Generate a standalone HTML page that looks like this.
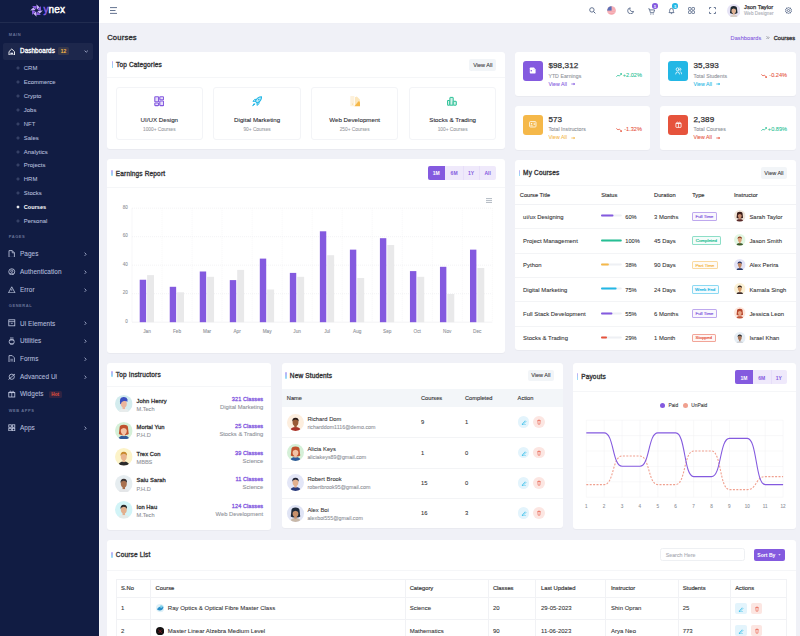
<!DOCTYPE html>
<html><head><meta charset="utf-8"><title>Courses</title>
<style>
html,body{margin:0;padding:0;width:800px;height:636px;overflow:hidden;background:#f0f1f7;font-family:"Liberation Sans",sans-serif;}
.t{position:absolute;line-height:1;white-space:nowrap;-webkit-text-stroke:0.08px currentColor;}
.r{position:absolute;box-sizing:border-box;}
</style></head><body>
<div class="r" style="left:0.00px;top:0.00px;width:99.00px;height:636.00px;background:#111c43;"></div>
<div class="r" style="left:99.00px;top:0.00px;width:1.00px;height:636.00px;background:#f6f7fa;"></div>
<div class="r" style="left:0.00px;top:22.00px;width:99.00px;height:1.00px;background:rgba(255,255,255,0.07);"></div>
<svg class="r" style="left:30.00px;top:3.60px;" width="13" height="13" viewBox="0 0 13 13"><g transform="translate(6.5,6.5)"><path d="M0.45,-1.0 L-0.1,-6.3 L3.3,-3.0 Z" fill="#c9b3f7" transform="rotate(0)"/><path d="M0.45,-1.0 L-0.1,-6.3 L3.3,-3.0 Z" fill="#8a5ce6" transform="rotate(45)"/><path d="M0.45,-1.0 L-0.1,-6.3 L3.3,-3.0 Z" fill="#c9b3f7" transform="rotate(90)"/><path d="M0.45,-1.0 L-0.1,-6.3 L3.3,-3.0 Z" fill="#8a5ce6" transform="rotate(135)"/><path d="M0.45,-1.0 L-0.1,-6.3 L3.3,-3.0 Z" fill="#c9b3f7" transform="rotate(180)"/><path d="M0.45,-1.0 L-0.1,-6.3 L3.3,-3.0 Z" fill="#8a5ce6" transform="rotate(225)"/><path d="M0.45,-1.0 L-0.1,-6.3 L3.3,-3.0 Z" fill="#c9b3f7" transform="rotate(270)"/><path d="M0.45,-1.0 L-0.1,-6.3 L3.3,-3.0 Z" fill="#8a5ce6" transform="rotate(315)"/></g></svg>
<div class="t" style="top:4.54px;font-size:10.0px;color:#ffffff;letter-spacing:0.1px;left:43.50px;-webkit-text-stroke:0.45px currentColor;"><span style="color:#8c5ee6">y</span>nex</div>
<div class="t" style="top:33.00px;font-size:4.0px;color:rgba(163,174,209,0.6);font-weight:700;-webkit-text-stroke:0;letter-spacing:0.55px;left:8.80px;">MAIN</div>
<div class="r" style="left:3.20px;top:42.50px;width:89.80px;height:17.50px;background:rgba(255,255,255,0.05);border-radius:2px;"></div>
<svg class="r" style="left:8.00px;top:47.50px;" width="7.5" height="7.5" viewBox="0 0 7.5 7.5"><path d="M1 7V3.6L3.75 1 6.5 3.6V7Z" fill="none" stroke="#fff" stroke-width="0.9"/><rect x="2.4" y="4.7" width="2.7" height="1.6" fill="#e0e4f5"/></svg>
<div class="t" style="top:48.00px;font-size:6.3px;color:#ffffff;letter-spacing:0.1px;left:20.00px;-webkit-text-stroke:0.3px #ffffff;">Dashboards</div>
<div class="r" style="left:58.00px;top:47.30px;width:10.70px;height:7.70px;background:rgba(245,184,73,0.12);border-radius:1.5px;"></div>
<div class="t" style="top:50.00px;font-size:4.8px;color:#f5b849;left:63.40px;transform:translateX(-50%);-webkit-text-stroke:0.2px #f5b849;">12</div>
<svg class="r" style="left:83.50px;top:49.50px;" width="4.5" height="3" viewBox="0 0 4.5 3"><path d="M0.6 0.6L2.25 2.2 3.9 0.6" fill="none" stroke="#b4bddb" stroke-width="0.8"/></svg>
<svg class="r" style="left:15.50px;top:65.80px;" width="4" height="4" viewBox="0 0 4 4"><circle cx="2" cy="2" r="1.1" fill="none" stroke="rgba(163,174,209,0.5)" stroke-width="0.6"/></svg>
<div class="t" style="top:66.00px;font-size:5.9px;color:#b4bddb;letter-spacing:0.05px;left:23.80px;">CRM</div>
<svg class="r" style="left:15.50px;top:79.75px;" width="4" height="4" viewBox="0 0 4 4"><circle cx="2" cy="2" r="1.1" fill="none" stroke="rgba(163,174,209,0.5)" stroke-width="0.6"/></svg>
<div class="t" style="top:80.00px;font-size:5.9px;color:#b4bddb;letter-spacing:0.05px;left:23.80px;">Ecommerce</div>
<svg class="r" style="left:15.50px;top:93.70px;" width="4" height="4" viewBox="0 0 4 4"><circle cx="2" cy="2" r="1.1" fill="none" stroke="rgba(163,174,209,0.5)" stroke-width="0.6"/></svg>
<div class="t" style="top:94.00px;font-size:5.9px;color:#b4bddb;letter-spacing:0.05px;left:23.80px;">Crypto</div>
<svg class="r" style="left:15.50px;top:107.65px;" width="4" height="4" viewBox="0 0 4 4"><circle cx="2" cy="2" r="1.1" fill="none" stroke="rgba(163,174,209,0.5)" stroke-width="0.6"/></svg>
<div class="t" style="top:108.00px;font-size:5.9px;color:#b4bddb;letter-spacing:0.05px;left:23.80px;">Jobs</div>
<svg class="r" style="left:15.50px;top:121.60px;" width="4" height="4" viewBox="0 0 4 4"><circle cx="2" cy="2" r="1.1" fill="none" stroke="rgba(163,174,209,0.5)" stroke-width="0.6"/></svg>
<div class="t" style="top:122.00px;font-size:5.9px;color:#b4bddb;letter-spacing:0.05px;left:23.80px;">NFT</div>
<svg class="r" style="left:15.50px;top:135.55px;" width="4" height="4" viewBox="0 0 4 4"><circle cx="2" cy="2" r="1.1" fill="none" stroke="rgba(163,174,209,0.5)" stroke-width="0.6"/></svg>
<div class="t" style="top:136.00px;font-size:5.9px;color:#b4bddb;letter-spacing:0.05px;left:23.80px;">Sales</div>
<svg class="r" style="left:15.50px;top:149.50px;" width="4" height="4" viewBox="0 0 4 4"><circle cx="2" cy="2" r="1.1" fill="none" stroke="rgba(163,174,209,0.5)" stroke-width="0.6"/></svg>
<div class="t" style="top:150.00px;font-size:5.9px;color:#b4bddb;letter-spacing:0.05px;left:23.80px;">Analytics</div>
<svg class="r" style="left:15.50px;top:163.45px;" width="4" height="4" viewBox="0 0 4 4"><circle cx="2" cy="2" r="1.1" fill="none" stroke="rgba(163,174,209,0.5)" stroke-width="0.6"/></svg>
<div class="t" style="top:163.00px;font-size:5.9px;color:#b4bddb;letter-spacing:0.05px;left:23.80px;">Projects</div>
<svg class="r" style="left:15.50px;top:177.40px;" width="4" height="4" viewBox="0 0 4 4"><circle cx="2" cy="2" r="1.1" fill="none" stroke="rgba(163,174,209,0.5)" stroke-width="0.6"/></svg>
<div class="t" style="top:177.00px;font-size:5.9px;color:#b4bddb;letter-spacing:0.05px;left:23.80px;">HRM</div>
<svg class="r" style="left:15.50px;top:191.35px;" width="4" height="4" viewBox="0 0 4 4"><circle cx="2" cy="2" r="1.1" fill="none" stroke="rgba(163,174,209,0.5)" stroke-width="0.6"/></svg>
<div class="t" style="top:191.00px;font-size:5.9px;color:#b4bddb;letter-spacing:0.05px;left:23.80px;">Stocks</div>
<svg class="r" style="left:15.50px;top:205.30px;" width="4" height="4" viewBox="0 0 4 4"><circle cx="2" cy="2" r="1.1" fill="#fff" stroke="#fff" stroke-width="0.6"/></svg>
<div class="t" style="top:205.00px;font-size:5.6px;color:#ffffff;font-weight:700;-webkit-text-stroke:0;left:23.80px;">Courses</div>
<svg class="r" style="left:15.50px;top:219.25px;" width="4" height="4" viewBox="0 0 4 4"><circle cx="2" cy="2" r="1.1" fill="none" stroke="rgba(163,174,209,0.5)" stroke-width="0.6"/></svg>
<div class="t" style="top:219.00px;font-size:5.9px;color:#b4bddb;letter-spacing:0.05px;left:23.80px;">Personal</div>
<div class="t" style="top:235.00px;font-size:4.0px;color:rgba(163,174,209,0.6);font-weight:700;-webkit-text-stroke:0;letter-spacing:0.55px;left:8.80px;">PAGES</div>
<div class="t" style="top:304.00px;font-size:4.0px;color:rgba(163,174,209,0.6);font-weight:700;-webkit-text-stroke:0;letter-spacing:0.55px;left:8.80px;">GENERAL</div>
<div class="t" style="top:409.00px;font-size:4.0px;color:rgba(163,174,209,0.6);font-weight:700;-webkit-text-stroke:0;letter-spacing:0.55px;left:8.80px;">WEB APPS</div>
<svg class="r" style="left:8.30px;top:249.70px;" width="7.5" height="7.5" viewBox="0 0 7.5 7.5"><path d="M1 0.6h3.2l2.2 2.2v4.6H1z" fill="none" stroke="#c8cfe6" stroke-width="0.8"/><path d="M4.2 0.6v2.2h2.2" fill="none" stroke="#c8cfe6" stroke-width="0.7"/></svg>
<div class="t" style="top:251.00px;font-size:6.4px;color:#b4bddb;letter-spacing:0.08px;left:20.00px;">Pages</div>
<svg class="r" style="left:84.20px;top:251.70px;" width="3" height="4.5" viewBox="0 0 3 4.5"><path d="M0.6 0.6L2.2 2.25 0.6 3.9" fill="none" stroke="#b4bddb" stroke-width="0.8"/></svg>
<svg class="r" style="left:8.30px;top:267.60px;" width="7.5" height="7.5" viewBox="0 0 7.5 7.5"><circle cx="3.75" cy="3.75" r="3" fill="none" stroke="#c8cfe6" stroke-width="0.8"/><circle cx="3.75" cy="3.2" r="1.1" fill="none" stroke="#c8cfe6" stroke-width="0.7"/><path d="M1.8 6c.6-1 3.3-1 3.9 0" fill="none" stroke="#c8cfe6" stroke-width="0.7"/></svg>
<div class="t" style="top:269.00px;font-size:6.4px;color:#b4bddb;letter-spacing:0.08px;left:20.00px;">Authentication</div>
<svg class="r" style="left:84.20px;top:269.60px;" width="3" height="4.5" viewBox="0 0 3 4.5"><path d="M0.6 0.6L2.2 2.25 0.6 3.9" fill="none" stroke="#b4bddb" stroke-width="0.8"/></svg>
<svg class="r" style="left:8.30px;top:285.50px;" width="7.5" height="7.5" viewBox="0 0 7.5 7.5"><path d="M3.75 0.8L7 6.8H0.5Z" fill="none" stroke="#c8cfe6" stroke-width="0.8"/><path d="M3.75 3v1.8" stroke="#c8cfe6" stroke-width="0.7"/></svg>
<div class="t" style="top:287.00px;font-size:6.4px;color:#b4bddb;letter-spacing:0.08px;left:20.00px;">Error</div>
<svg class="r" style="left:84.20px;top:287.50px;" width="3" height="4.5" viewBox="0 0 3 4.5"><path d="M0.6 0.6L2.2 2.25 0.6 3.9" fill="none" stroke="#b4bddb" stroke-width="0.8"/></svg>
<svg class="r" style="left:8.30px;top:319.30px;" width="7.5" height="7.5" viewBox="0 0 7.5 7.5"><rect x="0.8" y="0.8" width="6" height="6" fill="none" stroke="#c8cfe6" stroke-width="0.8"/><path d="M0.8 2.6h6M2.8 4.3h2" stroke="#c8cfe6" stroke-width="0.7"/></svg>
<div class="t" style="top:321.00px;font-size:6.4px;color:#b4bddb;letter-spacing:0.08px;left:20.00px;">Ui Elements</div>
<svg class="r" style="left:84.20px;top:321.30px;" width="3" height="4.5" viewBox="0 0 3 4.5"><path d="M0.6 0.6L2.2 2.25 0.6 3.9" fill="none" stroke="#b4bddb" stroke-width="0.8"/></svg>
<svg class="r" style="left:8.30px;top:337.00px;" width="7.5" height="7.5" viewBox="0 0 7.5 7.5"><path d="M2 1h3.5M1.5 3h4.5M2 7h3.5" stroke="#c8cfe6" stroke-width="0.8"/><rect x="1.2" y="2.5" width="5" height="4.5" rx="2" fill="none" stroke="#c8cfe6" stroke-width="0.8"/></svg>
<div class="t" style="top:338.00px;font-size:6.4px;color:#b4bddb;letter-spacing:0.08px;left:20.00px;">Utilities</div>
<svg class="r" style="left:84.20px;top:339.00px;" width="3" height="4.5" viewBox="0 0 3 4.5"><path d="M0.6 0.6L2.2 2.25 0.6 3.9" fill="none" stroke="#b4bddb" stroke-width="0.8"/></svg>
<svg class="r" style="left:8.30px;top:354.90px;" width="7.5" height="7.5" viewBox="0 0 7.5 7.5"><path d="M1 0.6h3.2l2.2 2.2v4.6H1z" fill="none" stroke="#c8cfe6" stroke-width="0.8"/><path d="M2.3 4.3h2.8M2.3 5.8h2.8" stroke="#c8cfe6" stroke-width="0.6"/></svg>
<div class="t" style="top:356.00px;font-size:6.4px;color:#b4bddb;letter-spacing:0.08px;left:20.00px;">Forms</div>
<svg class="r" style="left:84.20px;top:356.90px;" width="3" height="4.5" viewBox="0 0 3 4.5"><path d="M0.6 0.6L2.2 2.25 0.6 3.9" fill="none" stroke="#b4bddb" stroke-width="0.8"/></svg>
<svg class="r" style="left:8.30px;top:372.60px;" width="7.5" height="7.5" viewBox="0 0 7.5 7.5"><circle cx="3.75" cy="3.75" r="2.6" fill="none" stroke="#c8cfe6" stroke-width="0.8"/><path d="M0.5 6.5L7 1" stroke="#c8cfe6" stroke-width="0.8"/></svg>
<div class="t" style="top:374.00px;font-size:6.4px;color:#b4bddb;letter-spacing:0.08px;left:20.00px;">Advanced Ui</div>
<svg class="r" style="left:84.20px;top:374.60px;" width="3" height="4.5" viewBox="0 0 3 4.5"><path d="M0.6 0.6L2.2 2.25 0.6 3.9" fill="none" stroke="#b4bddb" stroke-width="0.8"/></svg>
<svg class="r" style="left:8.30px;top:390.10px;" width="7.5" height="7.5" viewBox="0 0 7.5 7.5"><rect x="0.8" y="2.6" width="6" height="4.4" fill="none" stroke="#c8cfe6" stroke-width="0.8"/><path d="M3.75 2.6v4.4M0.5 2.6h6.5M3.75 2.5C3 0.5 1.5 0.8 2 2.3M3.75 2.5C4.5 0.5 6 0.8 5.5 2.3" fill="none" stroke="#c8cfe6" stroke-width="0.7"/></svg>
<div class="t" style="top:391.00px;font-size:6.4px;color:#b4bddb;letter-spacing:0.08px;left:20.00px;">Widgets</div>
<svg class="r" style="left:8.30px;top:423.90px;" width="7.5" height="7.5" viewBox="0 0 7.5 7.5"><rect x="0.8" y="0.8" width="2.5" height="2.5" fill="none" stroke="#c8cfe6" stroke-width="0.8"/><rect x="4.3" y="0.8" width="2.5" height="2.5" fill="none" stroke="#c8cfe6" stroke-width="0.8"/><rect x="0.8" y="4.3" width="2.5" height="2.5" fill="none" stroke="#c8cfe6" stroke-width="0.8"/><rect x="4.3" y="4.3" width="2.5" height="2.5" fill="none" stroke="#c8cfe6" stroke-width="0.8"/></svg>
<div class="t" style="top:425.00px;font-size:6.4px;color:#b4bddb;letter-spacing:0.08px;left:20.00px;">Apps</div>
<svg class="r" style="left:84.20px;top:425.90px;" width="3" height="4.5" viewBox="0 0 3 4.5"><path d="M0.6 0.6L2.2 2.25 0.6 3.9" fill="none" stroke="#b4bddb" stroke-width="0.8"/></svg>
<div class="r" style="left:48.60px;top:391.00px;width:13.20px;height:7.00px;background:rgba(230,83,60,0.15);border-radius:1.5px;"></div>
<div class="t" style="top:393.00px;font-size:4.6px;color:#e6533c;font-weight:700;-webkit-text-stroke:0;left:55.20px;transform:translateX(-50%);">Hot</div>
<div class="r" style="left:99.00px;top:0.00px;width:701.00px;height:22.80px;background:#ffffff;box-shadow:0 0.5px 1.5px rgba(0,0,0,0.02);"></div>
<svg class="r" style="left:110.00px;top:6.80px;" width="7.5" height="7" viewBox="0 0 7.5 7"><path d="M0 0.6h7M0 3.5h5.5M0 6.4h7" stroke="#536485" stroke-width="0.9"/></svg>
<svg class="r" style="left:589.00px;top:7.30px;" width="7" height="7" viewBox="0 0 7 7"><circle cx="2.9" cy="2.9" r="2.2" fill="none" stroke="#536485" stroke-width="0.9"/><path d="M4.5 4.5L6.4 6.4" stroke="#536485" stroke-width="1"/></svg>
<svg class="r" style="left:607.30px;top:6.20px;" width="9" height="9" viewBox="0 0 9 9"><defs><clipPath id="fc"><circle cx="4.5" cy="4.5" r="4.3"/></clipPath></defs><g clip-path="url(#fc)"><rect width="9" height="9" fill="#f5a3ab"/><path d="M0 1.2h9M0 3h9M0 4.8h9M0 6.6h9" stroke="#f8c4c9" stroke-width="0.6"/><rect width="4.6" height="4.6" fill="#5c6fb5"/></g></svg>
<svg class="r" style="left:627.00px;top:7.30px;" width="7.5" height="7" viewBox="0 0 7.5 7"><path d="M3.2 0.8A3 3 0 1 0 6.6 4.4 2.6 2.6 0 0 1 3.2 0.8Z" fill="none" stroke="#536485" stroke-width="0.85"/></svg>
<svg class="r" style="left:648.00px;top:7.50px;" width="7" height="7" viewBox="0 0 7 7"><path d="M0.3 0.8h1.1l1 3.9h3.3l0.9-2.8H1.8" fill="none" stroke="#536485" stroke-width="0.85"/><circle cx="2.8" cy="6" r="0.6" fill="#536485"/><circle cx="5.2" cy="6" r="0.6" fill="#536485"/></svg>
<div class="r" style="left:652.20px;top:3.20px;width:5.60px;height:5.60px;background:#845adf;border-radius:50%;"></div>
<div class="t" style="top:6.00px;font-size:3.6px;color:#fff;font-weight:700;-webkit-text-stroke:0;left:655.00px;transform:translateX(-50%);">5</div>
<svg class="r" style="left:668.00px;top:7.20px;" width="7" height="7.5" viewBox="0 0 7 7.5"><path d="M1 5.6h5C5.3 4.8 5.3 4 5.3 3.2A1.8 1.8 0 0 0 1.7 3.2C1.7 4 1.7 4.8 1 5.6Z" fill="none" stroke="#536485" stroke-width="0.85"/><path d="M2.8 6.6h1.4" stroke="#536485" stroke-width="0.8"/></svg>
<div class="r" style="left:672.40px;top:3.20px;width:5.60px;height:5.60px;background:#23b7e5;border-radius:50%;"></div>
<div class="t" style="top:6.00px;font-size:3.6px;color:#fff;font-weight:700;-webkit-text-stroke:0;left:675.20px;transform:translateX(-50%);">5</div>
<svg class="r" style="left:688.30px;top:7.30px;" width="7" height="7" viewBox="0 0 7 7"><rect x="0.5" y="0.5" width="2.6" height="2.6" rx="0.6" fill="none" stroke="#536485" stroke-width="0.8"/><rect x="3.9" y="0.5" width="2.6" height="2.6" rx="0.6" fill="none" stroke="#536485" stroke-width="0.8"/><rect x="0.5" y="3.9" width="2.6" height="2.6" rx="0.6" fill="none" stroke="#536485" stroke-width="0.8"/><rect x="3.9" y="3.9" width="2.6" height="2.6" rx="0.6" fill="none" stroke="#536485" stroke-width="0.8"/></svg>
<svg class="r" style="left:709.00px;top:6.90px;" width="7" height="7" viewBox="0 0 7 7"><path d="M0.5 2.2V0.5h1.7M4.8 0.5h1.7v1.7M6.5 4.8v1.7H4.8M2.2 6.5H0.5V4.8" fill="none" stroke="#536485" stroke-width="0.85"/></svg>
<svg class="r" style="left:726.75px;top:3.55px;" width="13.5" height="13.5" viewBox="0 0 13.5 13.5"><defs><clipPath id="avc1"><circle cx="10" cy="10" r="10"/></clipPath></defs><g transform="scale(0.675)" clip-path="url(#avc1)"><rect width="20" height="20" fill="#e6e3f5"/><path d="M5.2 6.5Q5 3.2 10 3 15 3.2 14.8 6.5L15.6 13.5Q14 15 10 14.6 6 15 4.4 13.5Z" fill="#1f2a33"/><path d="M3.5 20.5Q4 15.6 10 15.4 16 15.6 16.5 20.5Z" fill="#d8cfc8"/><rect x="8.6" y="12.5" width="2.8" height="3.5" fill="#e0b394"/><ellipse cx="10" cy="10" rx="3.4" ry="4.1" fill="#e0b394"/><path d="M6.2 9.5Q6 5 10 5 14 5 13.8 9.5 13 7 10 6.8 7 7 6.2 9.5Z" fill="#1f2a33"/></g></svg>
<div class="t" style="top:5.00px;font-size:5.7px;color:#333335;letter-spacing:0.05px;left:744.00px;-webkit-text-stroke:0.25px #333335;">Json Taylor</div>
<div class="t" style="top:12.00px;font-size:4.6px;color:#a8abb3;letter-spacing:0.05px;left:744.00px;">Web Designer</div>
<svg class="r" style="left:785.00px;top:7.00px;" width="7" height="7" viewBox="0 0 7 7"><circle cx="3.5" cy="3.5" r="1.1" fill="none" stroke="#536485" stroke-width="0.8"/><path d="M3.5 0.4L4.3 1.1 5.4 0.9 5.6 2 6.6 2.5 6.1 3.5 6.6 4.5 5.6 5 5.4 6.1 4.3 5.9 3.5 6.6 2.7 5.9 1.6 6.1 1.4 5 0.4 4.5 0.9 3.5 0.4 2.5 1.4 2 1.6 0.9 2.7 1.1Z" fill="none" stroke="#536485" stroke-width="0.8" stroke-linejoin="round"/></svg>
<div class="t" style="top:34.00px;font-size:7.6px;color:#333335;letter-spacing:0.2px;left:107.20px;-webkit-text-stroke:0.35px #333335;">Courses</div>
<div class="t" style="top:36.00px;font-size:5.6px;color:#845adf;letter-spacing:0.05px;left:730.60px;">Dashboards</div>
<svg class="r" style="left:766.30px;top:36.00px;" width="3.6" height="3.4" viewBox="0 0 3.6 3.4"><path d="M0.4 0.4L1.7 1.7 0.4 3M1.9 0.4L3.2 1.7 1.9 3" fill="none" stroke="#8c9097" stroke-width="0.75"/></svg>
<div class="t" style="top:36.00px;font-size:5.7px;color:#333335;letter-spacing:0.05px;left:773.70px;-webkit-text-stroke:0.3px #333335;">Courses</div>
<div class="r" style="left:107.20px;top:52.30px;width:397.50px;height:96.40px;background:#ffffff;border-radius:3px;box-shadow:0 0.5px 1px rgba(10,10,10,0.03);"></div>
<div class="r" style="left:111.60px;top:61.30px;width:1.50px;height:6.40px;background:linear-gradient(#c4a8f7,#8fe3f5);border-radius:1px;"></div>
<div class="t" style="top:62.00px;font-size:6.5px;color:#333335;letter-spacing:0.16px;left:116.00px;-webkit-text-stroke:0.32px #333335;">Top Categories</div>
<div class="r" style="left:469.30px;top:59.40px;width:27.00px;height:11.30px;background:#f2f5f8;border-radius:2px;"></div>
<div class="t" style="top:63.00px;font-size:5.5px;color:#333335;left:482.80px;transform:translateX(-50%);">View All</div>
<div class="r" style="left:107.20px;top:77.20px;width:397.50px;height:0.60px;background:#f5f6f8;"></div>
<div class="r" style="left:115.90px;top:86.70px;width:86.80px;height:53.60px;background:#fff;border:0.5px solid #f3f4f7;border-radius:3px;"></div>
<div class="t" style="top:117.00px;font-size:6.2px;color:#2d2d35;left:159.30px;transform:translateX(-50%);-webkit-text-stroke:0.1px #2d2d35;">UI/UX Design</div>
<div class="t" style="top:128.00px;font-size:4.8px;color:#9a9ca3;left:159.30px;transform:translateX(-50%);">1000+ Courses</div>
<svg class="r" style="left:154.10px;top:96.20px;" width="10.4" height="10.4" viewBox="0 0 10.4 10.4"><rect x="0.8" y="0.8" width="3.8" height="5" rx="0.6" fill="#e7defa" stroke="#845adf" stroke-width="1.1"/><rect x="5.8" y="0.8" width="3.8" height="3" rx="0.6" fill="#e7defa" stroke="#845adf" stroke-width="1.1"/><rect x="0.8" y="7" width="3.8" height="2.6" rx="0.6" fill="#e7defa" stroke="#845adf" stroke-width="1.1"/><rect x="5.8" y="5" width="3.8" height="4.6" rx="0.6" fill="#e7defa" stroke="#845adf" stroke-width="1.1"/></svg>
<div class="r" style="left:213.40px;top:86.70px;width:87.40px;height:53.60px;background:#fff;border:0.5px solid #f3f4f7;border-radius:3px;"></div>
<div class="t" style="top:117.00px;font-size:6.2px;color:#2d2d35;left:257.10px;transform:translateX(-50%);-webkit-text-stroke:0.1px #2d2d35;">Digital Marketing</div>
<div class="t" style="top:128.00px;font-size:4.8px;color:#9a9ca3;left:257.10px;transform:translateX(-50%);">90+ Courses</div>
<svg class="r" style="left:251.90px;top:96.20px;" width="10.4" height="10.4" viewBox="0 0 10.4 10.4"><path d="M9.6 0.8C6.8 0.9 4.6 2.6 3.3 5.2L5.2 7.1C7.8 5.8 9.5 3.6 9.6 0.8Z" fill="#bfeaf8" stroke="#23b7e5" stroke-width="1.1" stroke-linejoin="round"/><path d="M3.3 5.2L1 5.4 2.6 3.4 4.4 3.4M5.2 7.1L5 9.4 7 7.8 7 6" fill="none" stroke="#23b7e5" stroke-width="1"/><path d="M2.4 7.2L0.7 9.7 3.2 8" fill="none" stroke="#23b7e5" stroke-width="1"/><circle cx="6.8" cy="3.6" r="0.8" fill="#23b7e5"/></svg>
<div class="r" style="left:311.00px;top:86.70px;width:87.40px;height:53.60px;background:#fff;border:0.5px solid #f3f4f7;border-radius:3px;"></div>
<div class="t" style="top:117.00px;font-size:6.2px;color:#2d2d35;left:354.70px;transform:translateX(-50%);-webkit-text-stroke:0.1px #2d2d35;">Web Development</div>
<div class="t" style="top:128.00px;font-size:4.8px;color:#9a9ca3;left:354.70px;transform:translateX(-50%);">250+ Courses</div>
<svg class="r" style="left:349.50px;top:96.20px;" width="10.4" height="10.4" viewBox="0 0 10.4 10.4"><rect x="0.3" y="0" width="4.1" height="10.2" rx="0.4" fill="#fdf1dc"/><path d="M5 1.3L6.8 0.5 9.9 3.4V6L5 9.5Z" fill="#fce6bb"/><path d="M4.4 10.2H10V6.2Q9.6 5.1 8.3 5.4Z" fill="#f5b849"/><circle cx="2.6" cy="8.1" r="0.55" fill="#f8d595"/></svg>
<div class="r" style="left:409.00px;top:86.70px;width:87.30px;height:53.60px;background:#fff;border:0.5px solid #f3f4f7;border-radius:3px;"></div>
<div class="t" style="top:117.00px;font-size:6.2px;color:#2d2d35;left:452.65px;transform:translateX(-50%);-webkit-text-stroke:0.1px #2d2d35;">Stocks &amp; Trading</div>
<div class="t" style="top:128.00px;font-size:4.8px;color:#9a9ca3;left:452.65px;transform:translateX(-50%);">100+ Courses</div>
<svg class="r" style="left:447.45px;top:96.20px;" width="10.4" height="10.4" viewBox="0 0 10.4 10.4"><g fill="#d4f2e9" stroke="#26bf94" stroke-width="1" stroke-linejoin="round"><rect x="0.4" y="4.5" width="2.5" height="4.7" rx="0.3"/><rect x="2.9" y="1.4" width="3.3" height="7.8" rx="0.3"/><rect x="6.2" y="5.3" width="3.1" height="3.9" rx="0.3"/></g></svg>
<div class="r" style="left:514.90px;top:52.20px;width:135.60px;height:43.80px;background:#ffffff;border-radius:3px;box-shadow:0 0.5px 1px rgba(10,10,10,0.03);"></div>
<div class="r" style="left:523.20px;top:60.90px;width:20.00px;height:20.00px;background:#845adf;border-radius:3px;"></div>
<svg class="r" style="left:529.40px;top:67.40px;" width="7.5" height="7" viewBox="0 0 7.5 7"><path d="M0.8 1.3Q0.8 0.6 1.5 0.6H5L6.6 2.6V5.8Q6.6 6.4 6 6.4H1.5Q0.8 6.4 0.8 5.8Z" fill="#fff"/><circle cx="2.3" cy="3.8" r="0.8" fill="#845adf"/><path d="M4 2.6h2.6" stroke="#c9b6f2" stroke-width="0.4"/></svg>
<div class="t" style="top:62.00px;font-size:8.1px;color:#333335;letter-spacing:0.1px;left:548.40px;-webkit-text-stroke:0.25px #333335;">$98,312</div>
<div class="t" style="top:74.00px;font-size:5.2px;color:#8c9097;letter-spacing:0.05px;left:548.40px;">YTD Earnings</div>
<div class="t" style="top:82.00px;font-size:5.2px;color:#845adf;letter-spacing:0.05px;left:548.40px;">View All</div>
<svg class="r" style="left:570.70px;top:81.80px;" width="4.6" height="4" viewBox="0 0 4.6 4"><path d="M0.3 2h3.2" stroke="#845adf" stroke-width="0.8"/><path d="M2.6 0.7L4.2 2 2.6 3.3Z" fill="#845adf"/></svg>
<div class="t" style="top:73.00px;font-size:5.6px;color:#26bf94;right:158.10px;">+2.02%</div>
<svg class="r" style="left:615.90px;top:73.40px;" width="6" height="4" viewBox="0 0 6 4"><path d="M0.3 3.7L2 2.2 3.3 3.1 5.6 0.6M4.2 0.6h1.5v1.4" fill="none" stroke="#26bf94" stroke-width="0.75"/></svg>
<div class="r" style="left:660.00px;top:52.20px;width:135.60px;height:43.80px;background:#ffffff;border-radius:3px;box-shadow:0 0.5px 1px rgba(10,10,10,0.03);"></div>
<div class="r" style="left:668.30px;top:60.90px;width:20.00px;height:20.00px;background:#23b7e5;border-radius:3px;"></div>
<svg class="r" style="left:674.50px;top:67.40px;" width="7.6" height="7.4" viewBox="0 0 7.6 7.4"><g fill="none" stroke="#fff" stroke-width="0.8" stroke-linecap="round"><circle cx="2.6" cy="2.3" r="1.45"/><path d="M5.0 0.95A1.45 1.45 0 0 1 5.0 3.65"/><path d="M0.7 7.0Q0.7 4.9 2.6 4.9 4.5 4.9 4.5 7.0"/><path d="M5.7 5.0Q6.9 5.4 6.9 7.0"/></g></svg>
<div class="t" style="top:62.00px;font-size:8.1px;color:#333335;letter-spacing:0.1px;left:693.50px;-webkit-text-stroke:0.25px #333335;">35,393</div>
<div class="t" style="top:74.00px;font-size:5.2px;color:#8c9097;letter-spacing:0.05px;left:693.50px;">Total Students</div>
<div class="t" style="top:82.00px;font-size:5.2px;color:#23b7e5;letter-spacing:0.05px;left:693.50px;">View All</div>
<svg class="r" style="left:715.80px;top:81.80px;" width="4.6" height="4" viewBox="0 0 4.6 4"><path d="M0.3 2h3.2" stroke="#23b7e5" stroke-width="0.8"/><path d="M2.6 0.7L4.2 2 2.6 3.3Z" fill="#23b7e5"/></svg>
<div class="t" style="top:73.00px;font-size:5.6px;color:#e6533c;right:13.00px;">-0.24%</div>
<svg class="r" style="left:761.00px;top:73.80px;" width="6" height="4" viewBox="0 0 6 4"><path d="M0.3 0.4L2 1.9 3.3 1 5.6 3.5M4.2 3.5h1.5V2.1" fill="none" stroke="#e6533c" stroke-width="0.75"/></svg>
<div class="r" style="left:514.90px;top:106.00px;width:135.60px;height:43.80px;background:#ffffff;border-radius:3px;box-shadow:0 0.5px 1px rgba(10,10,10,0.03);"></div>
<div class="r" style="left:523.20px;top:114.70px;width:20.00px;height:20.00px;background:#f5b849;border-radius:3px;"></div>
<svg class="r" style="left:529.40px;top:121.40px;" width="7.6" height="6.6" viewBox="0 0 7.6 6.6"><rect x="0.6" y="0.6" width="6.4" height="5.4" rx="0.8" fill="none" stroke="#fff" stroke-width="0.8"/><circle cx="2.6" cy="2.7" r="0.8" fill="#fff"/><path d="M1.5 4.7h2.2M4.6 2.3h1.6M4.6 3.6h1.6" stroke="#fff" stroke-width="0.7"/></svg>
<div class="t" style="top:116.00px;font-size:8.1px;color:#333335;letter-spacing:0.1px;left:548.40px;-webkit-text-stroke:0.25px #333335;">573</div>
<div class="t" style="top:127.00px;font-size:5.2px;color:#8c9097;letter-spacing:0.05px;left:548.40px;">Total Instructors</div>
<div class="t" style="top:135.00px;font-size:5.2px;color:#f5b849;letter-spacing:0.05px;left:548.40px;">View All</div>
<svg class="r" style="left:570.70px;top:135.60px;" width="4.6" height="4" viewBox="0 0 4.6 4"><path d="M0.3 2h3.2" stroke="#f5b849" stroke-width="0.8"/><path d="M2.6 0.7L4.2 2 2.6 3.3Z" fill="#f5b849"/></svg>
<div class="t" style="top:127.00px;font-size:5.6px;color:#e6533c;right:158.10px;">-1.32%</div>
<svg class="r" style="left:615.90px;top:127.60px;" width="6" height="4" viewBox="0 0 6 4"><path d="M0.3 0.4L2 1.9 3.3 1 5.6 3.5M4.2 3.5h1.5V2.1" fill="none" stroke="#e6533c" stroke-width="0.75"/></svg>
<div class="r" style="left:660.00px;top:106.00px;width:135.60px;height:43.80px;background:#ffffff;border-radius:3px;box-shadow:0 0.5px 1px rgba(10,10,10,0.03);"></div>
<div class="r" style="left:668.30px;top:114.70px;width:20.00px;height:20.00px;background:#e6533c;border-radius:3px;"></div>
<svg class="r" style="left:674.80px;top:121.20px;" width="7" height="7" viewBox="0 0 7 7"><rect x="0.9" y="2.4" width="5.2" height="4" rx="0.4" fill="none" stroke="#fff" stroke-width="0.8"/><path d="M0.6 2.4h5.8M3.5 2.4v4M3.5 2.3C2.8 0.4 1.3 0.8 1.9 2.2M3.5 2.3C4.2 0.4 5.7 0.8 5.1 2.2" fill="none" stroke="#fff" stroke-width="0.7"/></svg>
<div class="t" style="top:116.00px;font-size:8.1px;color:#333335;letter-spacing:0.1px;left:693.50px;-webkit-text-stroke:0.25px #333335;">2,389</div>
<div class="t" style="top:127.00px;font-size:5.2px;color:#8c9097;letter-spacing:0.05px;left:693.50px;">Total Courses</div>
<div class="t" style="top:135.00px;font-size:5.2px;color:#e6533c;letter-spacing:0.05px;left:693.50px;">View All</div>
<svg class="r" style="left:715.80px;top:135.60px;" width="4.6" height="4" viewBox="0 0 4.6 4"><path d="M0.3 2h3.2" stroke="#e6533c" stroke-width="0.8"/><path d="M2.6 0.7L4.2 2 2.6 3.3Z" fill="#e6533c"/></svg>
<div class="t" style="top:127.00px;font-size:5.6px;color:#26bf94;right:13.00px;">+0.89%</div>
<svg class="r" style="left:761.00px;top:127.20px;" width="6" height="4" viewBox="0 0 6 4"><path d="M0.3 3.7L2 2.2 3.3 3.1 5.6 0.6M4.2 0.6h1.5v1.4" fill="none" stroke="#26bf94" stroke-width="0.75"/></svg>
<div class="r" style="left:107.00px;top:158.90px;width:397.80px;height:194.00px;background:#ffffff;border-radius:3px;box-shadow:0 0.5px 1px rgba(10,10,10,0.03);"></div>
<div class="r" style="left:111.40px;top:169.90px;width:1.50px;height:6.40px;background:linear-gradient(#c4a8f7,#8fe3f5);border-radius:1px;"></div>
<div class="t" style="top:171.00px;font-size:6.5px;color:#333335;letter-spacing:0.16px;left:115.80px;-webkit-text-stroke:0.32px #333335;">Earnings Report</div>
<div class="r" style="left:107.00px;top:186.70px;width:397.80px;height:0.60px;background:#f5f6f8;"></div>
<div class="r" style="left:427.50px;top:165.80px;width:68.70px;height:13.80px;background:#efe9fb;border-radius:2px;"></div>
<div class="r" style="left:427.50px;top:165.80px;width:17.70px;height:13.80px;background:#845adf;border-radius:2px 0 0 2px;"></div>
<div class="r" style="left:462.90px;top:165.80px;width:0.50px;height:13.80px;background:rgba(132,90,223,0.07);"></div>
<div class="r" style="left:479.20px;top:165.80px;width:0.50px;height:13.80px;background:rgba(132,90,223,0.07);"></div>
<div class="t" style="top:171.00px;font-size:5.0px;color:#fff;font-weight:700;-webkit-text-stroke:0;left:436.30px;transform:translateX(-50%);">1M</div>
<div class="t" style="top:171.00px;font-size:5.0px;color:#845adf;font-weight:700;-webkit-text-stroke:0;left:454.10px;transform:translateX(-50%);">6M</div>
<div class="t" style="top:171.00px;font-size:5.0px;color:#845adf;font-weight:700;-webkit-text-stroke:0;left:471.10px;transform:translateX(-50%);">1Y</div>
<div class="t" style="top:171.00px;font-size:5.0px;color:#845adf;font-weight:700;-webkit-text-stroke:0;left:487.60px;transform:translateX(-50%);">All</div>
<svg class="r" style="left:485.80px;top:198.00px;" width="6.4" height="5.2" viewBox="0 0 6.4 5.2"><path d="M0 0.6h6.4M0 2.6h6.4M0 4.6h6.4" stroke="#a9b1bb" stroke-width="0.9"/></svg>
<div class="t" style="top:320.00px;font-size:4.5px;color:#8c9097;right:672.20px;">0</div>
<div class="t" style="top:291.00px;font-size:4.5px;color:#8c9097;right:672.20px;">20</div>
<div class="t" style="top:263.00px;font-size:4.5px;color:#8c9097;right:672.20px;">40</div>
<div class="t" style="top:234.00px;font-size:4.5px;color:#8c9097;right:672.20px;">60</div>
<div class="t" style="top:206.00px;font-size:4.5px;color:#8c9097;right:672.20px;">80</div>
<div class="t" style="top:330.00px;font-size:4.7px;color:#8c9097;left:147.01px;transform:translateX(-50%);">Jan</div>
<div class="t" style="top:330.00px;font-size:4.7px;color:#8c9097;left:177.04px;transform:translateX(-50%);">Feb</div>
<div class="t" style="top:330.00px;font-size:4.7px;color:#8c9097;left:207.06px;transform:translateX(-50%);">Mar</div>
<div class="t" style="top:330.00px;font-size:4.7px;color:#8c9097;left:237.09px;transform:translateX(-50%);">Apr</div>
<div class="t" style="top:330.00px;font-size:4.7px;color:#8c9097;left:267.11px;transform:translateX(-50%);">May</div>
<div class="t" style="top:330.00px;font-size:4.7px;color:#8c9097;left:297.14px;transform:translateX(-50%);">Jun</div>
<div class="t" style="top:330.00px;font-size:4.7px;color:#8c9097;left:327.16px;transform:translateX(-50%);">Jul</div>
<div class="t" style="top:330.00px;font-size:4.7px;color:#8c9097;left:357.19px;transform:translateX(-50%);">Aug</div>
<div class="t" style="top:330.00px;font-size:4.7px;color:#8c9097;left:387.21px;transform:translateX(-50%);">Sep</div>
<div class="t" style="top:330.00px;font-size:4.7px;color:#8c9097;left:417.24px;transform:translateX(-50%);">Oct</div>
<div class="t" style="top:330.00px;font-size:4.7px;color:#8c9097;left:447.26px;transform:translateX(-50%);">Nov</div>
<div class="t" style="top:330.00px;font-size:4.7px;color:#8c9097;left:477.29px;transform:translateX(-50%);">Dec</div>
<svg class="r" style="left:107.00px;top:200.00px;" width="390" height="130" viewBox="0 0 390 130"><g transform="translate(-107,-200)"><line x1="132.0" y1="322.2" x2="492.3" y2="322.2" stroke="#e6e7ea" stroke-width="0.5" stroke-dasharray="none"/><line x1="132.0" y1="293.7" x2="492.3" y2="293.7" stroke="#e6e7ea" stroke-width="0.5" stroke-dasharray="1 1"/><line x1="132.0" y1="265.2" x2="492.3" y2="265.2" stroke="#e6e7ea" stroke-width="0.5" stroke-dasharray="1 1"/><line x1="132.0" y1="236.7" x2="492.3" y2="236.7" stroke="#e6e7ea" stroke-width="0.5" stroke-dasharray="1 1"/><line x1="132.0" y1="208.2" x2="492.3" y2="208.2" stroke="#e6e7ea" stroke-width="0.5" stroke-dasharray="1 1"/><line x1="132.0" y1="208.2" x2="132.0" y2="322.2" stroke="#eeeff1" stroke-width="0.5" stroke-dasharray="none"/><line x1="162.025" y1="208.2" x2="162.025" y2="322.2" stroke="#eeeff1" stroke-width="0.5" stroke-dasharray="1 1"/><line x1="192.05" y1="208.2" x2="192.05" y2="322.2" stroke="#eeeff1" stroke-width="0.5" stroke-dasharray="1 1"/><line x1="222.075" y1="208.2" x2="222.075" y2="322.2" stroke="#eeeff1" stroke-width="0.5" stroke-dasharray="1 1"/><line x1="252.10000000000002" y1="208.2" x2="252.10000000000002" y2="322.2" stroke="#eeeff1" stroke-width="0.5" stroke-dasharray="1 1"/><line x1="282.125" y1="208.2" x2="282.125" y2="322.2" stroke="#eeeff1" stroke-width="0.5" stroke-dasharray="1 1"/><line x1="312.15" y1="208.2" x2="312.15" y2="322.2" stroke="#eeeff1" stroke-width="0.5" stroke-dasharray="1 1"/><line x1="342.175" y1="208.2" x2="342.175" y2="322.2" stroke="#eeeff1" stroke-width="0.5" stroke-dasharray="1 1"/><line x1="372.20000000000005" y1="208.2" x2="372.20000000000005" y2="322.2" stroke="#eeeff1" stroke-width="0.5" stroke-dasharray="1 1"/><line x1="402.225" y1="208.2" x2="402.225" y2="322.2" stroke="#eeeff1" stroke-width="0.5" stroke-dasharray="1 1"/><line x1="432.25" y1="208.2" x2="432.25" y2="322.2" stroke="#eeeff1" stroke-width="0.5" stroke-dasharray="1 1"/><line x1="462.27500000000003" y1="208.2" x2="462.27500000000003" y2="322.2" stroke="#eeeff1" stroke-width="0.5" stroke-dasharray="1 1"/><line x1="492.3" y1="208.2" x2="492.3" y2="322.2" stroke="#eeeff1" stroke-width="0.5" stroke-dasharray="1 1"/></g><rect x="32.71" y="79.75" width="6.4" height="42.45" fill="#845adf"/><rect x="40.11" y="75.10" width="6.9" height="47.10" fill="#e9e9ea"/><rect x="62.74" y="86.80" width="6.4" height="35.40" fill="#845adf"/><rect x="70.14" y="92.30" width="6.9" height="29.90" fill="#e9e9ea"/><rect x="92.76" y="71.50" width="6.4" height="50.70" fill="#845adf"/><rect x="100.16" y="76.80" width="6.9" height="45.40" fill="#e9e9ea"/><rect x="122.79" y="80.10" width="6.4" height="42.10" fill="#845adf"/><rect x="130.19" y="69.90" width="6.9" height="52.30" fill="#e9e9ea"/><rect x="152.81" y="58.60" width="6.4" height="63.60" fill="#845adf"/><rect x="160.21" y="89.50" width="6.9" height="32.70" fill="#e9e9ea"/><rect x="182.84" y="72.90" width="6.4" height="49.30" fill="#845adf"/><rect x="190.24" y="76.80" width="6.9" height="45.40" fill="#e9e9ea"/><rect x="212.86" y="31.30" width="6.4" height="90.90" fill="#845adf"/><rect x="220.26" y="55.20" width="6.9" height="67.00" fill="#e9e9ea"/><rect x="242.89" y="49.65" width="6.4" height="72.55" fill="#845adf"/><rect x="250.29" y="78.00" width="6.9" height="44.20" fill="#e9e9ea"/><rect x="272.91" y="38.20" width="6.4" height="84.00" fill="#845adf"/><rect x="280.31" y="45.00" width="6.9" height="77.20" fill="#e9e9ea"/><rect x="302.94" y="71.10" width="6.4" height="51.10" fill="#845adf"/><rect x="310.34" y="76.80" width="6.9" height="45.40" fill="#e9e9ea"/><rect x="332.96" y="66.80" width="6.4" height="55.40" fill="#845adf"/><rect x="340.36" y="94.00" width="6.9" height="28.20" fill="#e9e9ea"/><rect x="362.99" y="49.65" width="6.4" height="72.55" fill="#845adf"/><rect x="370.39" y="68.00" width="6.9" height="54.20" fill="#e9e9ea"/></svg>
<div class="r" style="left:514.50px;top:160.10px;width:281.00px;height:189.70px;background:#ffffff;border-radius:3px;box-shadow:0 0.5px 1px rgba(10,10,10,0.03);"></div>
<div class="r" style="left:518.70px;top:169.60px;width:1.50px;height:6.40px;background:linear-gradient(#c4a8f7,#8fe3f5);border-radius:1px;"></div>
<div class="t" style="top:170.00px;font-size:6.5px;color:#333335;letter-spacing:0.16px;left:523.10px;-webkit-text-stroke:0.32px #333335;">My Courses</div>
<div class="r" style="left:760.60px;top:167.10px;width:26.70px;height:11.60px;background:#f2f5f8;border-radius:2px;"></div>
<div class="t" style="top:171.00px;font-size:5.5px;color:#333335;left:773.95px;transform:translateX(-50%);">View All</div>
<div class="r" style="left:514.50px;top:184.90px;width:281.00px;height:0.60px;background:#f5f6f8;"></div>
<div class="t" style="top:193.00px;font-size:5.7px;color:#333335;left:519.80px;-webkit-text-stroke:0.14px #333335;">Course Title</div>
<div class="t" style="top:193.00px;font-size:5.7px;color:#333335;left:601.20px;-webkit-text-stroke:0.14px #333335;">Status</div>
<div class="t" style="top:193.00px;font-size:5.7px;color:#333335;left:654.10px;-webkit-text-stroke:0.14px #333335;">Duration</div>
<div class="t" style="top:193.00px;font-size:5.7px;color:#333335;left:692.20px;-webkit-text-stroke:0.14px #333335;">Type</div>
<div class="t" style="top:193.00px;font-size:5.7px;color:#333335;left:734.00px;-webkit-text-stroke:0.14px #333335;">Instructor</div>
<div class="r" style="left:514.50px;top:204.00px;width:281.00px;height:0.60px;background:#f1f2f5;"></div>
<div class="t" style="top:215.00px;font-size:5.9px;color:#333335;letter-spacing:0.02px;left:523.10px;">ui/ux Designing</div>
<svg class="r" style="left:601.20px;top:214.40px;" width="21" height="3" viewBox="0 0 21 3"><rect x="0" y="0.5" width="20.8" height="1.9" rx="0.95" fill="#eef0f4"/><rect x="0" y="0.5" width="12.48" height="1.9" rx="0.95" fill="#845adf"/></svg>
<div class="t" style="top:215.00px;font-size:5.7px;color:#333335;left:625.30px;">60%</div>
<div class="t" style="top:215.00px;font-size:5.9px;color:#333335;left:654.10px;">3 Months</div>
<div class="r" style="left:691.80px;top:212.00px;width:25.20px;height:8.80px;background:#845adf0d;border:0.6px solid #845adf80;border-radius:1.5px;"></div>
<div class="t" style="top:215.00px;font-size:4.4px;color:#845adf;left:704.40px;transform:translateX(-50%);-webkit-text-stroke:0.18px #845adf;">Full Time</div>
<svg class="r" style="left:734.40px;top:210.00px;" width="11.6" height="11.6" viewBox="0 0 11.6 11.6"><defs><clipPath id="avc2"><circle cx="10" cy="10" r="10"/></clipPath></defs><g transform="scale(0.58)" clip-path="url(#avc2)"><rect width="20" height="20" fill="#f1e6da"/><path d="M5.2 6.5Q5 3.2 10 3 15 3.2 14.8 6.5L15.6 13.5Q14 15 10 14.6 6 15 4.4 13.5Z" fill="#3a1c18"/><path d="M3.5 20.5Q4 15.6 10 15.4 16 15.6 16.5 20.5Z" fill="#5a2a2a"/><rect x="8.6" y="12.5" width="2.8" height="3.5" fill="#c98e70"/><ellipse cx="10" cy="10" rx="3.4" ry="4.1" fill="#c98e70"/><path d="M6.2 9.5Q6 5 10 5 14 5 13.8 9.5 13 7 10 6.8 7 7 6.2 9.5Z" fill="#3a1c18"/></g></svg>
<div class="t" style="top:215.00px;font-size:5.9px;color:#333335;letter-spacing:0.02px;left:749.40px;">Sarah Taylor</div>
<div class="r" style="left:514.50px;top:228.40px;width:281.00px;height:0.60px;background:#f3f4f6;"></div>
<div class="t" style="top:239.00px;font-size:5.9px;color:#333335;letter-spacing:0.02px;left:523.10px;">Project Management</div>
<svg class="r" style="left:601.20px;top:238.70px;" width="21" height="3" viewBox="0 0 21 3"><rect x="0" y="0.5" width="20.8" height="1.9" rx="0.95" fill="#eef0f4"/><rect x="0" y="0.5" width="20.8" height="1.9" rx="0.95" fill="#26bf94"/></svg>
<div class="t" style="top:239.00px;font-size:5.7px;color:#333335;left:625.30px;">100%</div>
<div class="t" style="top:239.00px;font-size:5.9px;color:#333335;left:654.10px;">45 Days</div>
<div class="r" style="left:691.80px;top:236.30px;width:29.10px;height:8.80px;background:#26bf940d;border:0.6px solid #26bf9480;border-radius:1.5px;"></div>
<div class="t" style="top:239.00px;font-size:4.4px;color:#26bf94;left:706.35px;transform:translateX(-50%);-webkit-text-stroke:0.18px #26bf94;">Completed</div>
<svg class="r" style="left:734.40px;top:234.30px;" width="11.6" height="11.6" viewBox="0 0 11.6 11.6"><defs><clipPath id="avc3"><circle cx="10" cy="10" r="10"/></clipPath></defs><g transform="scale(0.58)" clip-path="url(#avc3)"><rect width="20" height="20" fill="#e3f7e3"/><path d="M3.5 20.5Q4 15.6 10 15.4 16 15.6 16.5 20.5Z" fill="#3b5a2a"/><rect x="8.6" y="12.5" width="2.8" height="3.5" fill="#e0a47e"/><ellipse cx="10" cy="10" rx="3.4" ry="4.1" fill="#e0a47e"/><path d="M6.3 9.2Q5.8 4.6 10 4.4 14.2 4.6 13.7 9.2 13.2 7 10 6.6 6.8 7 6.3 9.2Z" fill="#8a3a1c"/></g></svg>
<div class="t" style="top:239.00px;font-size:5.9px;color:#333335;letter-spacing:0.02px;left:749.40px;">Jason Smith</div>
<div class="r" style="left:514.50px;top:252.70px;width:281.00px;height:0.60px;background:#f3f4f6;"></div>
<div class="t" style="top:263.00px;font-size:5.9px;color:#333335;letter-spacing:0.02px;left:523.10px;">Python</div>
<svg class="r" style="left:601.20px;top:263.00px;" width="21" height="3" viewBox="0 0 21 3"><rect x="0" y="0.5" width="20.8" height="1.9" rx="0.95" fill="#eef0f4"/><rect x="0" y="0.5" width="7.904" height="1.9" rx="0.95" fill="#f5b849"/></svg>
<div class="t" style="top:263.00px;font-size:5.7px;color:#333335;left:625.30px;">38%</div>
<div class="t" style="top:263.00px;font-size:5.9px;color:#333335;left:654.10px;">90 Days</div>
<div class="r" style="left:691.80px;top:260.60px;width:26.10px;height:8.80px;background:#f5b8490d;border:0.6px solid #f5b84980;border-radius:1.5px;"></div>
<div class="t" style="top:264.00px;font-size:4.4px;color:#f5b849;left:704.85px;transform:translateX(-50%);-webkit-text-stroke:0.18px #f5b849;">Part Time</div>
<svg class="r" style="left:734.40px;top:258.60px;" width="11.6" height="11.6" viewBox="0 0 11.6 11.6"><defs><clipPath id="avc4"><circle cx="10" cy="10" r="10"/></clipPath></defs><g transform="scale(0.58)" clip-path="url(#avc4)"><rect width="20" height="20" fill="#e3e3f7"/><path d="M3.5 20.5Q4 15.6 10 15.4 16 15.6 16.5 20.5Z" fill="#2a3a6a"/><rect x="8.6" y="12.5" width="2.8" height="3.5" fill="#c48a66"/><ellipse cx="10" cy="10" rx="3.4" ry="4.1" fill="#c48a66"/><path d="M6.3 9.2Q5.8 4.6 10 4.4 14.2 4.6 13.7 9.2 13.2 7 10 6.6 6.8 7 6.3 9.2Z" fill="#1e2a5a"/></g></svg>
<div class="t" style="top:263.00px;font-size:5.9px;color:#333335;letter-spacing:0.02px;left:749.40px;">Alex Perira</div>
<div class="r" style="left:514.50px;top:277.00px;width:281.00px;height:0.60px;background:#f3f4f6;"></div>
<div class="t" style="top:288.00px;font-size:5.9px;color:#333335;letter-spacing:0.02px;left:523.10px;">Digital Marketing</div>
<svg class="r" style="left:601.20px;top:287.30px;" width="21" height="3" viewBox="0 0 21 3"><rect x="0" y="0.5" width="20.8" height="1.9" rx="0.95" fill="#eef0f4"/><rect x="0" y="0.5" width="15.6" height="1.9" rx="0.95" fill="#23b7e5"/></svg>
<div class="t" style="top:288.00px;font-size:5.7px;color:#333335;left:625.30px;">75%</div>
<div class="t" style="top:288.00px;font-size:5.9px;color:#333335;left:654.10px;">24 Days</div>
<div class="r" style="left:691.80px;top:284.90px;width:26.80px;height:8.80px;background:#23b7e50d;border:0.6px solid #23b7e580;border-radius:1.5px;"></div>
<div class="t" style="top:288.00px;font-size:4.4px;color:#23b7e5;left:705.20px;transform:translateX(-50%);-webkit-text-stroke:0.18px #23b7e5;">Week End</div>
<svg class="r" style="left:734.40px;top:282.90px;" width="11.6" height="11.6" viewBox="0 0 11.6 11.6"><defs><clipPath id="avc5"><circle cx="10" cy="10" r="10"/></clipPath></defs><g transform="scale(0.58)" clip-path="url(#avc5)"><rect width="20" height="20" fill="#fbf1d6"/><path d="M3.5 20.5Q4 15.6 10 15.4 16 15.6 16.5 20.5Z" fill="#3a2a2a"/><rect x="8.6" y="12.5" width="2.8" height="3.5" fill="#d49a6a"/><ellipse cx="10" cy="10" rx="3.4" ry="4.1" fill="#d49a6a"/><path d="M6.3 9.2Q5.8 4.6 10 4.4 14.2 4.6 13.7 9.2 13.2 7 10 6.6 6.8 7 6.3 9.2Z" fill="#2b1d12"/></g></svg>
<div class="t" style="top:288.00px;font-size:5.9px;color:#333335;letter-spacing:0.02px;left:749.40px;">Kamala Singh</div>
<div class="r" style="left:514.50px;top:301.30px;width:281.00px;height:0.60px;background:#f3f4f6;"></div>
<div class="t" style="top:312.00px;font-size:5.9px;color:#333335;letter-spacing:0.02px;left:523.10px;">Full Stack Development</div>
<svg class="r" style="left:601.20px;top:311.60px;" width="21" height="3" viewBox="0 0 21 3"><rect x="0" y="0.5" width="20.8" height="1.9" rx="0.95" fill="#eef0f4"/><rect x="0" y="0.5" width="11.44" height="1.9" rx="0.95" fill="#845adf"/></svg>
<div class="t" style="top:312.00px;font-size:5.7px;color:#333335;left:625.30px;">55%</div>
<div class="t" style="top:312.00px;font-size:5.9px;color:#333335;left:654.10px;">6 Months</div>
<div class="r" style="left:691.80px;top:309.20px;width:25.20px;height:8.80px;background:#845adf0d;border:0.6px solid #845adf80;border-radius:1.5px;"></div>
<div class="t" style="top:312.00px;font-size:4.4px;color:#845adf;left:704.40px;transform:translateX(-50%);-webkit-text-stroke:0.18px #845adf;">Full Time</div>
<svg class="r" style="left:734.40px;top:307.20px;" width="11.6" height="11.6" viewBox="0 0 11.6 11.6"><defs><clipPath id="avc6"><circle cx="10" cy="10" r="10"/></clipPath></defs><g transform="scale(0.58)" clip-path="url(#avc6)"><rect width="20" height="20" fill="#fde6dc"/><path d="M5.2 6.5Q5 3.2 10 3 15 3.2 14.8 6.5L15.6 13.5Q14 15 10 14.6 6 15 4.4 13.5Z" fill="#b5442a"/><path d="M3.5 20.5Q4 15.6 10 15.4 16 15.6 16.5 20.5Z" fill="#c0553a"/><rect x="8.6" y="12.5" width="2.8" height="3.5" fill="#e8a688"/><ellipse cx="10" cy="10" rx="3.4" ry="4.1" fill="#e8a688"/><path d="M6.2 9.5Q6 5 10 5 14 5 13.8 9.5 13 7 10 6.8 7 7 6.2 9.5Z" fill="#b5442a"/></g></svg>
<div class="t" style="top:312.00px;font-size:5.9px;color:#333335;letter-spacing:0.02px;left:749.40px;">Jessica Leon</div>
<div class="r" style="left:514.50px;top:325.60px;width:281.00px;height:0.60px;background:#f3f4f6;"></div>
<div class="t" style="top:336.00px;font-size:5.9px;color:#333335;letter-spacing:0.02px;left:523.10px;">Stocks &amp; Trading</div>
<svg class="r" style="left:601.20px;top:335.90px;" width="21" height="3" viewBox="0 0 21 3"><rect x="0" y="0.5" width="20.8" height="1.9" rx="0.95" fill="#eef0f4"/><rect x="0" y="0.5" width="6.032" height="1.9" rx="0.95" fill="#e6533c"/></svg>
<div class="t" style="top:336.00px;font-size:5.7px;color:#333335;left:625.30px;">29%</div>
<div class="t" style="top:336.00px;font-size:5.9px;color:#333335;left:654.10px;">1 Month</div>
<div class="r" style="left:691.80px;top:333.50px;width:23.90px;height:8.80px;background:#e6533c0d;border:0.6px solid #e6533c80;border-radius:1.5px;"></div>
<div class="t" style="top:336.00px;font-size:4.4px;color:#e6533c;left:703.75px;transform:translateX(-50%);-webkit-text-stroke:0.18px #e6533c;">Stopped</div>
<svg class="r" style="left:734.40px;top:331.50px;" width="11.6" height="11.6" viewBox="0 0 11.6 11.6"><defs><clipPath id="avc7"><circle cx="10" cy="10" r="10"/></clipPath></defs><g transform="scale(0.58)" clip-path="url(#avc7)"><rect width="20" height="20" fill="#e6eef5"/><path d="M3.5 20.5Q4 15.6 10 15.4 16 15.6 16.5 20.5Z" fill="#d0d4da"/><rect x="8.6" y="12.5" width="2.8" height="3.5" fill="#a8765a"/><ellipse cx="10" cy="10" rx="3.4" ry="4.1" fill="#a8765a"/><path d="M6.3 9.2Q5.8 4.6 10 4.4 14.2 4.6 13.7 9.2 13.2 7 10 6.6 6.8 7 6.3 9.2Z" fill="#2a2a2a"/></g></svg>
<div class="t" style="top:336.00px;font-size:5.9px;color:#333335;letter-spacing:0.02px;left:749.40px;">Israel Khan</div>
<div class="r" style="left:106.90px;top:363.30px;width:164.50px;height:167.00px;background:#ffffff;border-radius:3px;box-shadow:0 0.5px 1px rgba(10,10,10,0.03);"></div>
<div class="r" style="left:111.40px;top:371.10px;width:1.50px;height:6.40px;background:linear-gradient(#c4a8f7,#8fe3f5);border-radius:1px;"></div>
<div class="t" style="top:372.00px;font-size:6.5px;color:#333335;letter-spacing:0.16px;left:115.80px;-webkit-text-stroke:0.32px #333335;">Top Instructors</div>
<div class="r" style="left:106.90px;top:386.20px;width:164.50px;height:0.60px;background:#f5f6f8;"></div>
<svg class="r" style="left:115.40px;top:394.90px;" width="17.6" height="17.6" viewBox="0 0 17.6 17.6"><defs><clipPath id="avc8"><circle cx="10" cy="10" r="10"/></clipPath></defs><g transform="scale(0.8800000000000001)" clip-path="url(#avc8)"><rect width="20" height="20" fill="#d3ecee"/><path d="M3.5 20.5Q4 15.6 10 15.4 16 15.6 16.5 20.5Z" fill="#e8ecec"/><rect x="8.6" y="12.5" width="2.8" height="3.5" fill="#eab59c"/><ellipse cx="10" cy="10" rx="3.4" ry="4.1" fill="#eab59c"/><path d="M5.8 10Q5 4 7.5 2.8 10 1.5 13 3 15 4.5 14 8 13.5 6.5 10 6.8 7 7.2 6.6 10.5Z" fill="#3b4fc0"/></g></svg>
<div class="t" style="top:399.00px;font-size:5.8px;color:#333335;letter-spacing:0.05px;left:136.50px;-webkit-text-stroke:0.28px #333335;">John Henry</div>
<div class="t" style="top:407.00px;font-size:5.6px;color:#8c9097;left:136.50px;">M.Tech</div>
<div class="t" style="top:397.00px;font-size:5.6px;color:#845adf;letter-spacing:0.05px;right:536.80px;-webkit-text-stroke:0.3px #845adf;">321 Classes</div>
<div class="t" style="top:405.00px;font-size:5.8px;color:#8c9097;right:536.80px;">Digital Marketing</div>
<svg class="r" style="left:115.40px;top:421.50px;" width="17.6" height="17.6" viewBox="0 0 17.6 17.6"><defs><clipPath id="avc9"><circle cx="10" cy="10" r="10"/></clipPath></defs><g transform="scale(0.8800000000000001)" clip-path="url(#avc9)"><rect width="20" height="20" fill="#d5f0d8"/><path d="M5.2 6.5Q5 3.2 10 3 15 3.2 14.8 6.5L15.6 13.5Q14 15 10 14.6 6 15 4.4 13.5Z" fill="#c0522e"/><path d="M3.5 20.5Q4 15.6 10 15.4 16 15.6 16.5 20.5Z" fill="#2f5a9a"/><rect x="8.6" y="12.5" width="2.8" height="3.5" fill="#f3c3a6"/><ellipse cx="10" cy="10" rx="3.4" ry="4.1" fill="#f3c3a6"/><path d="M6.2 9.5Q6 5 10 5 14 5 13.8 9.5 13 7 10 6.8 7 7 6.2 9.5Z" fill="#c0522e"/></g></svg>
<div class="t" style="top:425.00px;font-size:5.8px;color:#333335;letter-spacing:0.05px;left:136.50px;-webkit-text-stroke:0.28px #333335;">Mortal Yun</div>
<div class="t" style="top:433.00px;font-size:5.6px;color:#8c9097;left:136.50px;">P.H.D</div>
<div class="t" style="top:424.00px;font-size:5.6px;color:#845adf;letter-spacing:0.05px;right:536.80px;-webkit-text-stroke:0.3px #845adf;">25 Classes</div>
<div class="t" style="top:432.00px;font-size:5.8px;color:#8c9097;right:536.80px;">Stocks &amp; Trading</div>
<svg class="r" style="left:115.40px;top:448.10px;" width="17.6" height="17.6" viewBox="0 0 17.6 17.6"><defs><clipPath id="avc10"><circle cx="10" cy="10" r="10"/></clipPath></defs><g transform="scale(0.8800000000000001)" clip-path="url(#avc10)"><rect width="20" height="20" fill="#fcf3c8"/><path d="M3.5 20.5Q4 15.6 10 15.4 16 15.6 16.5 20.5Z" fill="#2a2a2a"/><rect x="8.6" y="12.5" width="2.8" height="3.5" fill="#e8b48e"/><ellipse cx="10" cy="10" rx="3.4" ry="4.1" fill="#e8b48e"/><path d="M6.3 9.2Q5.8 4.6 10 4.4 14.2 4.6 13.7 9.2 13.2 7 10 6.6 6.8 7 6.3 9.2Z" fill="#c88a2e"/></g></svg>
<div class="t" style="top:452.00px;font-size:5.8px;color:#333335;letter-spacing:0.05px;left:136.50px;-webkit-text-stroke:0.28px #333335;">Trex Con</div>
<div class="t" style="top:460.00px;font-size:5.6px;color:#8c9097;left:136.50px;">MBBS</div>
<div class="t" style="top:451.00px;font-size:5.6px;color:#845adf;letter-spacing:0.05px;right:536.80px;-webkit-text-stroke:0.3px #845adf;">39 Classes</div>
<div class="t" style="top:459.00px;font-size:5.8px;color:#8c9097;right:536.80px;">Science</div>
<svg class="r" style="left:115.40px;top:474.70px;" width="17.6" height="17.6" viewBox="0 0 17.6 17.6"><defs><clipPath id="avc11"><circle cx="10" cy="10" r="10"/></clipPath></defs><g transform="scale(0.8800000000000001)" clip-path="url(#avc11)"><rect width="20" height="20" fill="#e6edf0"/><path d="M3.5 20.5Q4 15.6 10 15.4 16 15.6 16.5 20.5Z" fill="#e4e6e8"/><rect x="8.6" y="12.5" width="2.8" height="3.5" fill="#a8704e"/><ellipse cx="10" cy="10" rx="3.4" ry="4.1" fill="#a8704e"/><path d="M6.3 9.2Q5.8 4.6 10 4.4 14.2 4.6 13.7 9.2 13.2 7 10 6.6 6.8 7 6.3 9.2Z" fill="#3a3232"/></g></svg>
<div class="t" style="top:478.00px;font-size:5.8px;color:#333335;letter-spacing:0.05px;left:136.50px;-webkit-text-stroke:0.28px #333335;">Saiu Sarah</div>
<div class="t" style="top:487.00px;font-size:5.6px;color:#8c9097;left:136.50px;">P.H.D</div>
<div class="t" style="top:477.00px;font-size:5.6px;color:#845adf;letter-spacing:0.05px;right:536.80px;-webkit-text-stroke:0.3px #845adf;">11 Classes</div>
<div class="t" style="top:485.00px;font-size:5.8px;color:#8c9097;right:536.80px;">Science</div>
<svg class="r" style="left:115.40px;top:501.30px;" width="17.6" height="17.6" viewBox="0 0 17.6 17.6"><defs><clipPath id="avc12"><circle cx="10" cy="10" r="10"/></clipPath></defs><g transform="scale(0.8800000000000001)" clip-path="url(#avc12)"><rect width="20" height="20" fill="#d2f4f7"/><path d="M3.5 20.5Q4 15.6 10 15.4 16 15.6 16.5 20.5Z" fill="#e4eae8"/><rect x="8.6" y="12.5" width="2.8" height="3.5" fill="#e2b08e"/><ellipse cx="10" cy="10" rx="3.4" ry="4.1" fill="#e2b08e"/><path d="M6.3 9.2Q5.8 4.6 10 4.4 14.2 4.6 13.7 9.2 13.2 7 10 6.6 6.8 7 6.3 9.2Z" fill="#2a2a2a"/></g></svg>
<div class="t" style="top:505.00px;font-size:5.8px;color:#333335;letter-spacing:0.05px;left:136.50px;-webkit-text-stroke:0.28px #333335;">Ion Hau</div>
<div class="t" style="top:513.00px;font-size:5.6px;color:#8c9097;left:136.50px;">M.Tech</div>
<div class="t" style="top:504.00px;font-size:5.6px;color:#845adf;letter-spacing:0.05px;right:536.80px;-webkit-text-stroke:0.3px #845adf;">124 Classes</div>
<div class="t" style="top:512.00px;font-size:5.8px;color:#8c9097;right:536.80px;">Web Development</div>
<div class="r" style="left:281.60px;top:363.00px;width:281.10px;height:165.30px;background:#ffffff;border-radius:3px;box-shadow:0 0.5px 1px rgba(10,10,10,0.03);"></div>
<div class="r" style="left:285.40px;top:372.40px;width:1.50px;height:6.40px;background:linear-gradient(#c4a8f7,#8fe3f5);border-radius:1px;"></div>
<div class="t" style="top:373.00px;font-size:6.5px;color:#333335;letter-spacing:0.16px;left:289.80px;-webkit-text-stroke:0.32px #333335;">New Students</div>
<div class="r" style="left:527.60px;top:370.30px;width:26.50px;height:10.70px;background:#f2f5f8;border-radius:2px;"></div>
<div class="t" style="top:373.00px;font-size:5.5px;color:#333335;left:540.85px;transform:translateX(-50%);">View All</div>
<div class="r" style="left:281.60px;top:388.80px;width:281.00px;height:18.00px;background:#f3f6f9;"></div>
<div class="t" style="top:396.00px;font-size:5.7px;color:#333335;left:286.80px;-webkit-text-stroke:0.12px #333335;">Name</div>
<div class="t" style="top:396.00px;font-size:5.7px;color:#333335;left:421.00px;-webkit-text-stroke:0.12px #333335;">Courses</div>
<div class="t" style="top:396.00px;font-size:5.7px;color:#333335;left:465.00px;-webkit-text-stroke:0.12px #333335;">Completed</div>
<div class="t" style="top:396.00px;font-size:5.7px;color:#333335;left:517.60px;-webkit-text-stroke:0.12px #333335;">Action</div>
<svg class="r" style="left:287.40px;top:413.70px;" width="17" height="17" viewBox="0 0 17 17"><defs><clipPath id="avc13"><circle cx="10" cy="10" r="10"/></clipPath></defs><g transform="scale(0.85)" clip-path="url(#avc13)"><rect width="20" height="20" fill="#fdeede"/><path d="M3.5 20.5Q4 15.6 10 15.4 16 15.6 16.5 20.5Z" fill="#a8322a"/><rect x="8.6" y="12.5" width="2.8" height="3.5" fill="#9a5a36"/><ellipse cx="10" cy="10" rx="3.4" ry="4.1" fill="#9a5a36"/><path d="M6.3 9.2Q5.8 4.6 10 4.4 14.2 4.6 13.7 9.2 13.2 7 10 6.6 6.8 7 6.3 9.2Z" fill="#2a1a14"/></g></svg>
<div class="t" style="top:417.00px;font-size:5.8px;color:#333335;letter-spacing:0.02px;left:307.40px;">Richard Dom</div>
<div class="t" style="top:425.00px;font-size:5.3px;color:#8c9097;letter-spacing:0.02px;left:307.40px;">richarddom1116@demo.com</div>
<div class="t" style="top:420.00px;font-size:5.8px;color:#333335;left:421.00px;">9</div>
<div class="t" style="top:420.00px;font-size:5.8px;color:#333335;left:465.00px;">1</div>
<div class="r" style="left:517.60px;top:416.30px;width:11.80px;height:11.80px;background:#e3f4fc;border-radius:50%;"></div>
<svg class="r" style="left:520.50px;top:419.30px;" width="6" height="6" viewBox="0 0 6 6"><path d="M1.3 4.7L4.2 1.8 4.9 2.5 2 5.4 1.2 5.5Z" fill="none" stroke="#23b7e5" stroke-width="0.6"/><path d="M1 5.6h4" stroke="#23b7e5" stroke-width="0.4"/></svg>
<div class="r" style="left:533.10px;top:416.30px;width:11.80px;height:11.80px;background:#fce6e2;border-radius:50%;"></div>
<svg class="r" style="left:536.00px;top:419.20px;" width="6" height="6" viewBox="0 0 6 6"><path d="M1.3 1.6h3.4M2.3 1.6V1h1.4v0.6M1.8 1.8l0.3 3.4h1.8l0.3-3.4" fill="none" stroke="#e6533c" stroke-width="0.55"/></svg>
<div class="r" style="left:281.60px;top:437.20px;width:281.00px;height:0.60px;background:#f3f4f6;"></div>
<svg class="r" style="left:287.40px;top:444.00px;" width="17" height="17" viewBox="0 0 17 17"><defs><clipPath id="avc14"><circle cx="10" cy="10" r="10"/></clipPath></defs><g transform="scale(0.85)" clip-path="url(#avc14)"><rect width="20" height="20" fill="#d5f0d8"/><path d="M5.2 6.5Q5 3.2 10 3 15 3.2 14.8 6.5L15.6 13.5Q14 15 10 14.6 6 15 4.4 13.5Z" fill="#c0522e"/><path d="M3.5 20.5Q4 15.6 10 15.4 16 15.6 16.5 20.5Z" fill="#2f5a9a"/><rect x="8.6" y="12.5" width="2.8" height="3.5" fill="#f3c3a6"/><ellipse cx="10" cy="10" rx="3.4" ry="4.1" fill="#f3c3a6"/><path d="M6.2 9.5Q6 5 10 5 14 5 13.8 9.5 13 7 10 6.8 7 7 6.2 9.5Z" fill="#c0522e"/></g></svg>
<div class="t" style="top:447.00px;font-size:5.8px;color:#333335;letter-spacing:0.02px;left:307.40px;">Alicia Keys</div>
<div class="t" style="top:455.00px;font-size:5.3px;color:#8c9097;letter-spacing:0.02px;left:307.40px;">aliciakeys89@gmail.com</div>
<div class="t" style="top:451.00px;font-size:5.8px;color:#333335;left:421.00px;">1</div>
<div class="t" style="top:451.00px;font-size:5.8px;color:#333335;left:465.00px;">0</div>
<div class="r" style="left:517.60px;top:446.60px;width:11.80px;height:11.80px;background:#e3f4fc;border-radius:50%;"></div>
<svg class="r" style="left:520.50px;top:449.60px;" width="6" height="6" viewBox="0 0 6 6"><path d="M1.3 4.7L4.2 1.8 4.9 2.5 2 5.4 1.2 5.5Z" fill="none" stroke="#23b7e5" stroke-width="0.6"/><path d="M1 5.6h4" stroke="#23b7e5" stroke-width="0.4"/></svg>
<div class="r" style="left:533.10px;top:446.60px;width:11.80px;height:11.80px;background:#fce6e2;border-radius:50%;"></div>
<svg class="r" style="left:536.00px;top:449.50px;" width="6" height="6" viewBox="0 0 6 6"><path d="M1.3 1.6h3.4M2.3 1.6V1h1.4v0.6M1.8 1.8l0.3 3.4h1.8l0.3-3.4" fill="none" stroke="#e6533c" stroke-width="0.55"/></svg>
<div class="r" style="left:281.60px;top:467.50px;width:281.00px;height:0.60px;background:#f3f4f6;"></div>
<svg class="r" style="left:287.40px;top:474.30px;" width="17" height="17" viewBox="0 0 17 17"><defs><clipPath id="avc15"><circle cx="10" cy="10" r="10"/></clipPath></defs><g transform="scale(0.85)" clip-path="url(#avc15)"><rect width="20" height="20" fill="#e3e6f7"/><path d="M3.5 20.5Q4 15.6 10 15.4 16 15.6 16.5 20.5Z" fill="#2a3a7a"/><rect x="8.6" y="12.5" width="2.8" height="3.5" fill="#e2b08e"/><ellipse cx="10" cy="10" rx="3.4" ry="4.1" fill="#e2b08e"/><path d="M6.3 9.2Q5.8 4.6 10 4.4 14.2 4.6 13.7 9.2 13.2 7 10 6.6 6.8 7 6.3 9.2Z" fill="#1f2233"/></g></svg>
<div class="t" style="top:477.00px;font-size:5.8px;color:#333335;letter-spacing:0.02px;left:307.40px;">Robert Brook</div>
<div class="t" style="top:485.00px;font-size:5.3px;color:#8c9097;letter-spacing:0.02px;left:307.40px;">robertbrook95@gmail.com</div>
<div class="t" style="top:481.00px;font-size:5.8px;color:#333335;left:421.00px;">15</div>
<div class="t" style="top:481.00px;font-size:5.8px;color:#333335;left:465.00px;">0</div>
<div class="r" style="left:517.60px;top:476.90px;width:11.80px;height:11.80px;background:#e3f4fc;border-radius:50%;"></div>
<svg class="r" style="left:520.50px;top:479.90px;" width="6" height="6" viewBox="0 0 6 6"><path d="M1.3 4.7L4.2 1.8 4.9 2.5 2 5.4 1.2 5.5Z" fill="none" stroke="#23b7e5" stroke-width="0.6"/><path d="M1 5.6h4" stroke="#23b7e5" stroke-width="0.4"/></svg>
<div class="r" style="left:533.10px;top:476.90px;width:11.80px;height:11.80px;background:#fce6e2;border-radius:50%;"></div>
<svg class="r" style="left:536.00px;top:479.80px;" width="6" height="6" viewBox="0 0 6 6"><path d="M1.3 1.6h3.4M2.3 1.6V1h1.4v0.6M1.8 1.8l0.3 3.4h1.8l0.3-3.4" fill="none" stroke="#e6533c" stroke-width="0.55"/></svg>
<div class="r" style="left:281.60px;top:497.80px;width:281.00px;height:0.60px;background:#f3f4f6;"></div>
<svg class="r" style="left:287.40px;top:504.60px;" width="17" height="17" viewBox="0 0 17 17"><defs><clipPath id="avc16"><circle cx="10" cy="10" r="10"/></clipPath></defs><g transform="scale(0.85)" clip-path="url(#avc16)"><rect width="20" height="20" fill="#e0e4f5"/><path d="M5.2 6.5Q5 3.2 10 3 15 3.2 14.8 6.5L15.6 13.5Q14 15 10 14.6 6 15 4.4 13.5Z" fill="#1f2a3a"/><path d="M3.5 20.5Q4 15.6 10 15.4 16 15.6 16.5 20.5Z" fill="#c8b8a8"/><rect x="8.6" y="12.5" width="2.8" height="3.5" fill="#c8906a"/><ellipse cx="10" cy="10" rx="3.4" ry="4.1" fill="#c8906a"/><path d="M6.2 9.5Q6 5 10 5 14 5 13.8 9.5 13 7 10 6.8 7 7 6.2 9.5Z" fill="#1f2a3a"/></g></svg>
<div class="t" style="top:508.00px;font-size:5.8px;color:#333335;letter-spacing:0.02px;left:307.40px;">Alex Boi</div>
<div class="t" style="top:516.00px;font-size:5.3px;color:#8c9097;letter-spacing:0.02px;left:307.40px;">alexboi555@gmail.com</div>
<div class="t" style="top:511.00px;font-size:5.8px;color:#333335;left:421.00px;">16</div>
<div class="t" style="top:511.00px;font-size:5.8px;color:#333335;left:465.00px;">3</div>
<div class="r" style="left:517.60px;top:507.20px;width:11.80px;height:11.80px;background:#e3f4fc;border-radius:50%;"></div>
<svg class="r" style="left:520.50px;top:510.20px;" width="6" height="6" viewBox="0 0 6 6"><path d="M1.3 4.7L4.2 1.8 4.9 2.5 2 5.4 1.2 5.5Z" fill="none" stroke="#23b7e5" stroke-width="0.6"/><path d="M1 5.6h4" stroke="#23b7e5" stroke-width="0.4"/></svg>
<div class="r" style="left:533.10px;top:507.20px;width:11.80px;height:11.80px;background:#fce6e2;border-radius:50%;"></div>
<svg class="r" style="left:536.00px;top:510.10px;" width="6" height="6" viewBox="0 0 6 6"><path d="M1.3 1.6h3.4M2.3 1.6V1h1.4v0.6M1.8 1.8l0.3 3.4h1.8l0.3-3.4" fill="none" stroke="#e6533c" stroke-width="0.55"/></svg>
<div class="r" style="left:572.80px;top:363.00px;width:222.80px;height:165.50px;background:#ffffff;border-radius:3px;box-shadow:0 0.5px 1px rgba(10,10,10,0.03);"></div>
<div class="r" style="left:576.80px;top:373.40px;width:1.50px;height:6.40px;background:linear-gradient(#c4a8f7,#8fe3f5);border-radius:1px;"></div>
<div class="t" style="top:374.00px;font-size:6.5px;color:#333335;letter-spacing:0.16px;left:581.20px;-webkit-text-stroke:0.32px #333335;">Payouts</div>
<div class="r" style="left:572.80px;top:391.10px;width:222.80px;height:0.60px;background:#f5f6f8;"></div>
<div class="r" style="left:734.80px;top:370.30px;width:52.00px;height:14.10px;background:#efe9fb;border-radius:2px;"></div>
<div class="r" style="left:734.80px;top:370.30px;width:18.20px;height:14.10px;background:#845adf;border-radius:2px 0 0 2px;"></div>
<div class="r" style="left:770.60px;top:370.30px;width:0.50px;height:14.10px;background:rgba(132,90,223,0.07);"></div>
<div class="t" style="top:376.00px;font-size:5.0px;color:#fff;font-weight:700;-webkit-text-stroke:0;left:743.90px;transform:translateX(-50%);">1M</div>
<div class="t" style="top:376.00px;font-size:5.0px;color:#845adf;font-weight:700;-webkit-text-stroke:0;left:761.80px;transform:translateX(-50%);">6M</div>
<div class="t" style="top:376.00px;font-size:5.0px;color:#845adf;font-weight:700;-webkit-text-stroke:0;left:778.70px;transform:translateX(-50%);">1Y</div>
<div class="r" style="left:660.30px;top:403.00px;width:5.00px;height:5.00px;background:#845adf;border-radius:50%;"></div>
<div class="t" style="top:404.00px;font-size:4.9px;color:#333335;left:668.40px;">Paid</div>
<div class="r" style="left:682.90px;top:403.00px;width:5.00px;height:5.00px;background:#f0a08f;border-radius:50%;"></div>
<div class="t" style="top:404.00px;font-size:4.9px;color:#333335;left:691.30px;">UnPaid</div>
<div class="t" style="top:505.00px;font-size:4.6px;color:#8c9097;left:586.20px;transform:translateX(-50%);">1</div>
<div class="t" style="top:505.00px;font-size:4.6px;color:#8c9097;left:604.09px;transform:translateX(-50%);">2</div>
<div class="t" style="top:505.00px;font-size:4.6px;color:#8c9097;left:621.98px;transform:translateX(-50%);">3</div>
<div class="t" style="top:505.00px;font-size:4.6px;color:#8c9097;left:639.87px;transform:translateX(-50%);">4</div>
<div class="t" style="top:505.00px;font-size:4.6px;color:#8c9097;left:657.76px;transform:translateX(-50%);">5</div>
<div class="t" style="top:505.00px;font-size:4.6px;color:#8c9097;left:675.65px;transform:translateX(-50%);">6</div>
<div class="t" style="top:505.00px;font-size:4.6px;color:#8c9097;left:693.55px;transform:translateX(-50%);">7</div>
<div class="t" style="top:505.00px;font-size:4.6px;color:#8c9097;left:711.44px;transform:translateX(-50%);">8</div>
<div class="t" style="top:505.00px;font-size:4.6px;color:#8c9097;left:729.33px;transform:translateX(-50%);">9</div>
<div class="t" style="top:505.00px;font-size:4.6px;color:#8c9097;left:747.22px;transform:translateX(-50%);">10</div>
<div class="t" style="top:505.00px;font-size:4.6px;color:#8c9097;left:765.11px;transform:translateX(-50%);">11</div>
<div class="t" style="top:505.00px;font-size:4.6px;color:#8c9097;left:783.00px;transform:translateX(-50%);">12</div>
<svg class="r" style="left:572.90px;top:400.00px;" width="223" height="110" viewBox="0 0 223 110"><g transform="translate(-572.9,-400)"><line x1="586.2" y1="420.20" x2="783.0" y2="420.20" stroke="#f0f0f2" stroke-width="0.5"/><line x1="586.2" y1="435.60" x2="783.0" y2="435.60" stroke="#f0f0f2" stroke-width="0.5"/><line x1="586.2" y1="451.00" x2="783.0" y2="451.00" stroke="#f0f0f2" stroke-width="0.5"/><line x1="586.2" y1="466.40" x2="783.0" y2="466.40" stroke="#f0f0f2" stroke-width="0.5"/><line x1="586.2" y1="481.80" x2="783.0" y2="481.80" stroke="#f0f0f2" stroke-width="0.5"/><line x1="586.2" y1="497.20" x2="783.0" y2="497.20" stroke="#f0f0f2" stroke-width="0.5"/><line x1="586.20" y1="420.2" x2="586.20" y2="497.2" stroke="#f0f0f2" stroke-width="0.5"/><line x1="604.09" y1="420.2" x2="604.09" y2="497.2" stroke="#f0f0f2" stroke-width="0.5"/><line x1="621.98" y1="420.2" x2="621.98" y2="497.2" stroke="#f0f0f2" stroke-width="0.5"/><line x1="639.87" y1="420.2" x2="639.87" y2="497.2" stroke="#f0f0f2" stroke-width="0.5"/><line x1="657.76" y1="420.2" x2="657.76" y2="497.2" stroke="#f0f0f2" stroke-width="0.5"/><line x1="675.65" y1="420.2" x2="675.65" y2="497.2" stroke="#f0f0f2" stroke-width="0.5"/><line x1="693.55" y1="420.2" x2="693.55" y2="497.2" stroke="#f0f0f2" stroke-width="0.5"/><line x1="711.44" y1="420.2" x2="711.44" y2="497.2" stroke="#f0f0f2" stroke-width="0.5"/><line x1="729.33" y1="420.2" x2="729.33" y2="497.2" stroke="#f0f0f2" stroke-width="0.5"/><line x1="747.22" y1="420.2" x2="747.22" y2="497.2" stroke="#f0f0f2" stroke-width="0.5"/><line x1="765.11" y1="420.2" x2="765.11" y2="497.2" stroke="#f0f0f2" stroke-width="0.5"/><line x1="783.00" y1="420.2" x2="783.00" y2="497.2" stroke="#f0f0f2" stroke-width="0.5"/><path d="M586.20 484.60 L604.09 484.60 C613.93 484.60 612.14 456.00 621.98 456.00 L639.87 456.00 C649.71 456.00 647.92 484.60 657.76 484.60 L675.65 484.60 C685.49 484.60 683.71 451.00 693.55 451.00 L711.44 451.00 C721.28 451.00 719.49 489.60 729.33 489.60 L747.22 489.60 C757.06 489.60 755.27 476.60 765.11 476.60 L783.00 476.60" fill="none" stroke="#f0a08f" stroke-width="1.1" stroke-dasharray="2 1.4"/><path d="M586.20 432.90 L604.09 432.90 C613.93 432.90 612.14 466.30 621.98 466.30 L639.87 466.30 C649.71 466.30 647.92 432.90 657.76 432.90 L675.65 432.90 C685.49 432.90 683.71 476.60 693.55 476.60 L711.44 476.60 C721.28 476.60 719.49 438.40 729.33 438.40 L747.22 438.40 C757.06 438.40 755.27 484.60 765.11 484.60 L783.00 484.60" fill="none" stroke="#845adf" stroke-width="1.1"/></g></svg>
<div class="r" style="left:107.00px;top:540.00px;width:689.00px;height:120.00px;background:#ffffff;border-radius:3px;box-shadow:0 0.5px 1px rgba(10,10,10,0.03);"></div>
<div class="r" style="left:111.40px;top:551.70px;width:1.50px;height:6.40px;background:linear-gradient(#c4a8f7,#8fe3f5);border-radius:1px;"></div>
<div class="t" style="top:552.00px;font-size:6.5px;color:#333335;letter-spacing:0.16px;left:115.80px;-webkit-text-stroke:0.32px #333335;">Course List</div>
<div class="r" style="left:107.00px;top:569.90px;width:689.00px;height:0.60px;background:#f5f6f8;"></div>
<div class="r" style="left:660.00px;top:548.40px;width:85.30px;height:12.60px;background:#fff;border:0.6px solid #eef0f3;border-radius:2.5px;"></div>
<div class="t" style="top:553.00px;font-size:5.3px;color:#a8abb3;left:665.70px;">Search Here</div>
<div class="r" style="left:753.60px;top:548.80px;width:31.90px;height:11.80px;background:#845adf;border-radius:2px;"></div>
<div class="t" style="top:553.00px;font-size:5.1px;color:#fff;font-weight:700;-webkit-text-stroke:0;left:757.30px;">Sort By</div>
<svg class="r" style="left:777.60px;top:553.90px;" width="3" height="2" viewBox="0 0 3 2"><path d="M0.3 0.3L1.5 1.6 2.7 0.3Z" fill="#fff"/></svg>
<div class="r" style="left:116.20px;top:579.00px;width:670.60px;height:81.00px;background:transparent;border:0.6px solid #f1f2f5;"></div>
<div class="r" style="left:150.30px;top:579.00px;width:0.60px;height:81.00px;background:#f1f2f5;"></div>
<div class="r" style="left:405.00px;top:579.00px;width:0.60px;height:81.00px;background:#f1f2f5;"></div>
<div class="r" style="left:488.00px;top:579.00px;width:0.60px;height:81.00px;background:#f1f2f5;"></div>
<div class="r" style="left:535.30px;top:579.00px;width:0.60px;height:81.00px;background:#f1f2f5;"></div>
<div class="r" style="left:605.30px;top:579.00px;width:0.60px;height:81.00px;background:#f1f2f5;"></div>
<div class="r" style="left:677.50px;top:579.00px;width:0.60px;height:81.00px;background:#f1f2f5;"></div>
<div class="r" style="left:730.00px;top:579.00px;width:0.60px;height:81.00px;background:#f1f2f5;"></div>
<div class="r" style="left:116.20px;top:596.70px;width:670.60px;height:0.60px;background:#f1f2f5;"></div>
<div class="r" style="left:116.20px;top:619.20px;width:670.60px;height:0.60px;background:#f1f2f5;"></div>
<div class="t" style="top:586.00px;font-size:5.8px;color:#333335;left:121.00px;-webkit-text-stroke:0.16px #333335;">S.No</div>
<div class="t" style="top:586.00px;font-size:5.8px;color:#333335;left:155.60px;-webkit-text-stroke:0.16px #333335;">Course</div>
<div class="t" style="top:586.00px;font-size:5.8px;color:#333335;left:409.70px;-webkit-text-stroke:0.16px #333335;">Category</div>
<div class="t" style="top:586.00px;font-size:5.8px;color:#333335;left:492.90px;-webkit-text-stroke:0.16px #333335;">Classes</div>
<div class="t" style="top:586.00px;font-size:5.8px;color:#333335;left:541.00px;-webkit-text-stroke:0.16px #333335;">Last Updated</div>
<div class="t" style="top:586.00px;font-size:5.8px;color:#333335;left:611.00px;-webkit-text-stroke:0.16px #333335;">Instructor</div>
<div class="t" style="top:586.00px;font-size:5.8px;color:#333335;left:682.70px;-webkit-text-stroke:0.16px #333335;">Students</div>
<div class="t" style="top:586.00px;font-size:5.8px;color:#333335;left:735.20px;-webkit-text-stroke:0.16px #333335;">Actions</div>
<div class="t" style="top:605.00px;font-size:6.0px;color:#333335;left:121.00px;">1</div>
<svg class="r" style="left:156.00px;top:604.40px;" width="8.2" height="8.2" viewBox="0 0 8.2 8.2"><circle cx="4.1" cy="4.1" r="4.1" fill="#dff1f8"/><path d="M1 5.5C2.5 2.5 5 2 7.5 3 6.8 6.5 4 7.6 1 5.5Z" fill="#2a8fc9"/><circle cx="5.3" cy="2.6" r="1.4" fill="#7fd0ea"/></svg>
<div class="t" style="top:605.00px;font-size:6.0px;color:#333335;left:167.80px;">Ray Optics &amp; Optical Fibre Master Class</div>
<div class="t" style="top:605.00px;font-size:6.0px;color:#333335;left:409.70px;">Science</div>
<div class="t" style="top:605.00px;font-size:6.0px;color:#333335;left:492.90px;">20</div>
<div class="t" style="top:605.00px;font-size:6.0px;color:#333335;left:541.00px;">29-05-2023</div>
<div class="t" style="top:605.00px;font-size:6.0px;color:#333335;left:611.00px;">Shin Opran</div>
<div class="t" style="top:605.00px;font-size:6.0px;color:#333335;left:682.70px;">25</div>
<div class="r" style="left:735.20px;top:602.80px;width:12.30px;height:11.40px;background:#e3f4fc;border-radius:2px;"></div>
<svg class="r" style="left:738.40px;top:605.50px;" width="6" height="6" viewBox="0 0 6 6"><path d="M1.3 4.7L4.2 1.8 4.9 2.5 2 5.4 1.2 5.5Z" fill="none" stroke="#23b7e5" stroke-width="0.6"/><path d="M1 5.6h4" stroke="#23b7e5" stroke-width="0.4"/></svg>
<div class="r" style="left:751.00px;top:602.80px;width:11.30px;height:11.40px;background:#fce6e2;border-radius:2px;"></div>
<svg class="r" style="left:753.70px;top:605.50px;" width="6" height="6" viewBox="0 0 6 6"><path d="M1.3 1.6h3.4M2.3 1.6V1h1.4v0.6M1.8 1.8l0.3 3.4h1.8l0.3-3.4" fill="none" stroke="#e6533c" stroke-width="0.55"/></svg>
<div class="t" style="top:628.00px;font-size:6.0px;color:#333335;left:121.00px;">2</div>
<svg class="r" style="left:156.00px;top:626.70px;" width="8.2" height="8.2" viewBox="0 0 8.2 8.2"><circle cx="4.1" cy="4.1" r="4.1" fill="#111"/><path d="M2 2.5L6 6M6 2.5L2.5 6" stroke="#c23" stroke-width="0.5"/></svg>
<div class="t" style="top:628.00px;font-size:6.0px;color:#333335;left:167.80px;">Master Linear Alzebra Medium Level</div>
<div class="t" style="top:628.00px;font-size:6.0px;color:#333335;left:409.70px;">Mathematics</div>
<div class="t" style="top:628.00px;font-size:6.0px;color:#333335;left:492.90px;">90</div>
<div class="t" style="top:628.00px;font-size:6.0px;color:#333335;left:541.00px;">11-06-2023</div>
<div class="t" style="top:628.00px;font-size:6.0px;color:#333335;left:611.00px;">Arya Neo</div>
<div class="t" style="top:628.00px;font-size:6.0px;color:#333335;left:682.70px;">773</div>
<div class="r" style="left:735.20px;top:625.10px;width:12.30px;height:11.40px;background:#e3f4fc;border-radius:2px;"></div>
<svg class="r" style="left:738.40px;top:627.80px;" width="6" height="6" viewBox="0 0 6 6"><path d="M1.3 4.7L4.2 1.8 4.9 2.5 2 5.4 1.2 5.5Z" fill="none" stroke="#23b7e5" stroke-width="0.6"/><path d="M1 5.6h4" stroke="#23b7e5" stroke-width="0.4"/></svg>
<div class="r" style="left:751.00px;top:625.10px;width:11.30px;height:11.40px;background:#fce6e2;border-radius:2px;"></div>
<svg class="r" style="left:753.70px;top:627.80px;" width="6" height="6" viewBox="0 0 6 6"><path d="M1.3 1.6h3.4M2.3 1.6V1h1.4v0.6M1.8 1.8l0.3 3.4h1.8l0.3-3.4" fill="none" stroke="#e6533c" stroke-width="0.55"/></svg>
</body></html>
